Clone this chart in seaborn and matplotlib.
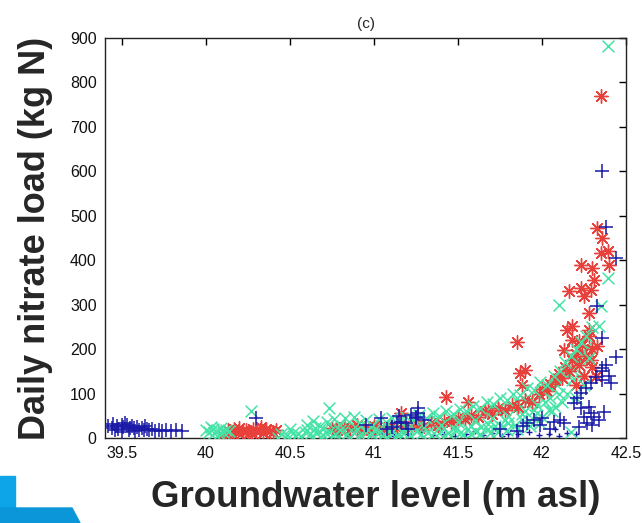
import matplotlib
matplotlib.use("Agg")
import matplotlib.pyplot as plt
import seaborn as sns
import pandas as pd
from matplotlib.patches import Polygon

# ---------------- data ----------------
blue_pts = [
    (39.42, 28), (39.44, 22), (39.45, 31), (39.47, 26), (39.48, 20), (39.50, 29), (39.51, 24),
    (39.53, 30), (39.54, 18), (39.56, 27), (39.57, 22), (39.59, 25), (39.60, 19), (39.62, 23),
    (39.63, 17), (39.65, 21), (39.66, 18), (39.68, 20), (39.70, 16), (39.72, 18), (39.74, 15),
    (39.76, 17), (39.79, 16), (39.82, 17), (39.86, 16), (39.46, 18), (39.52, 33), (39.58, 15),
    (39.64, 26), (39.50, 14), (39.55, 22),
    (40.30, 45),
    (40.95, 30), (41.04, 45), (41.11, 25), (41.14, 33), (41.15, 50), (41.16, 37), (41.19, 33),
    (41.22, 52), (41.25, 45), (41.26, 56), (41.26, 68), (41.25, 48), (41.08, 20), (41.30, 40),
    (41.20, 20),
    (41.89, 27), (41.91, 33), (41.99, 29), (41.95, 40), (42.07, 37), (42.11, 41), (42.13, 33),
    (42.05, 20), (42.00, 45), (41.85, 15), (41.75, 20),
    (42.19, 78), (42.21, 90), (42.23, 101), (42.26, 112), (42.29, 123), (42.32, 138), (42.36, 157),
    (42.41, 123), (42.23, 67), (42.25, 48), (42.27, 33), (42.29, 56), (42.31, 48), (42.37, 59),
    (42.30, 30), (42.34, 40), (42.22, 25), (42.36, 130), (42.38, 165), (42.36, 150), (42.44, 183),
    (42.36, 226), (42.33, 296), (42.44, 406), (42.38, 474), (42.36, 600), (42.40, 140), (42.28, 70),
]

blue_small_pts = [
    (40.78, 8), (40.85, 5), (40.92, 10), (41.00, 6), (41.05, 12), (41.12, 4), (41.20, 8),
    (41.28, 14), (41.35, 6), (41.42, 10), (41.48, 5), (41.55, 8), (41.60, 15), (41.65, 6),
    (41.70, 12), (41.76, 4), (41.80, 10), (41.86, 8), (41.92, 14), (41.98, 6), (42.04, 10),
    (42.10, 5), (42.15, 12), (42.20, 8), (40.88, 20), (41.38, 18), (41.72, 22), (42.08, 20),
]

red_pts = [
    (40.11, 2), (40.13, 18), (40.15, 14), (40.17, 20), (40.19, 12), (40.20, 22), (40.22, 16),
    (40.24, 19), (40.26, 13), (40.28, 21), (40.30, 15), (40.32, 18), (40.34, 12), (40.36, 20),
    (40.38, 16), (40.40, 14), (40.42, 18), (40.16, 8), (40.25, 8), (40.33, 25),
    (40.75, 22), (40.78, 18), (40.82, 25), (40.86, 20), (40.90, 17), (40.94, 22), (40.98, 19),
    (41.02, 24), (41.06, 20), (41.10, 26), (41.14, 22), (41.18, 28), (41.22, 25), (41.26, 30),
    (41.30, 28), (41.34, 34), (41.38, 30), (41.42, 38), (41.46, 35), (41.50, 45), (41.54, 42),
    (41.58, 52), (41.62, 48), (41.66, 60), (41.70, 55), (41.74, 68), (41.78, 62), (41.82, 75),
    (41.86, 70), (41.90, 85), (41.94, 80), (41.98, 98), (42.00, 110), (42.03, 105), (42.05, 122),
    (42.08, 130), (42.10, 145), (42.12, 135), (42.14, 160), (42.16, 150), (42.18, 175),
    (42.20, 190), (42.22, 165), (42.24, 210), (42.26, 185), (42.28, 230), (42.30, 200),
    (42.30, 160), (42.25, 140), (42.20, 120), (42.32, 140),
    (41.16, 56), (41.43, 93), (41.56, 80), (41.68, 63), (41.85, 215), (41.87, 146), (41.90, 153),
    (41.88, 120), (42.13, 199), (42.15, 244), (42.18, 251), (42.18, 221), (42.22, 218),
    (42.28, 244), (42.29, 176), (42.33, 206), (42.28, 281), (42.25, 319), (42.16, 330),
    (42.23, 338), (42.29, 334), (42.31, 356), (42.23, 390), (42.30, 383), (42.40, 390),
    (42.35, 417), (42.39, 420), (42.36, 450), (42.33, 473), (42.35, 769), (40.90, 30), (41.00, 28),
]

green_pts = [
    (40.00, 18), (40.02, 14), (40.04, 20), (40.05, 12), (40.07, 17), (40.09, 22), (40.10, 14),
    (40.12, 19), (40.14, 16), (40.03, 25), (40.08, 10),
    (40.27, 61), (40.43, 0), (40.73, 68), (42.39, 882),
    (40.45, 10), (40.48, 6), (40.52, 12), (40.55, 8), (40.59, 14), (40.62, 9), (40.66, 12),
    (40.70, 7), (40.73, 13), (40.77, 9), (40.81, 14), (40.84, 8), (40.88, 12), (40.92, 6),
    (40.95, 13), (40.99, 9), (41.03, 14), (41.06, 8), (41.10, 12), (41.14, 7), (41.17, 13),
    (41.21, 10), (41.25, 15), (41.28, 9), (41.32, 14), (41.36, 11), (41.40, 16), (41.44, 12),
    (41.48, 18), (41.52, 14), (41.56, 20), (41.60, 16), (41.64, 24), (41.68, 20), (41.72, 28),
    (41.76, 25), (41.80, 34), (41.84, 30), (41.88, 42), (41.92, 38), (41.96, 52), (42.00, 48),
    (42.04, 62), (42.08, 70),
    (40.60, 29), (40.64, 38), (40.68, 26), (40.72, 35), (40.76, 42), (40.80, 30), (40.83, 45),
    (40.88, 48), (40.91, 34), (40.95, 40), (40.99, 30), (41.03, 42), (41.07, 35), (41.11, 45),
    (41.15, 38), (41.19, 48), (41.23, 42), (41.27, 52), (41.31, 46), (41.35, 56), (41.39, 50),
    (41.43, 60), (41.47, 55), (41.51, 66), (41.55, 60), (41.59, 72), (41.63, 68), (41.67, 80),
    (41.71, 76), (41.75, 90), (41.79, 86), (41.83, 100), (41.87, 96), (41.91, 112), (41.95, 108),
    (41.99, 125), (42.03, 120), (42.07, 140), (42.11, 150), (42.14, 170), (42.17, 185),
    (42.20, 200), (42.23, 215), (42.26, 230), (42.30, 250), (42.34, 251), (42.35, 296),
    (42.10, 300), (42.39, 360), (42.17, 14), (42.15, 100), (42.20, 90), (42.25, 120),
    (42.28, 180), (42.12, 80), (42.05, 90), (41.97, 75), (41.90, 60), (41.80, 50), (41.70, 45),
    (41.60, 40), (41.50, 35), (41.40, 30), (41.30, 25), (41.20, 22), (41.10, 20), (41.00, 18),
    (40.90, 20), (40.80, 18), (40.70, 20), (40.60, 18), (40.50, 20),
]

# extra green crosses that make up the dense ribbon
green_band_pts = [
    (40.47, 3), (40.53, 4), (40.57, 2), (40.63, 4), (40.68, 3), (40.74, 2), (40.79, 4),
    (40.86, 3), (40.93, 2), (40.97, 4), (41.04, 3), (41.09, 2), (41.16, 4), (41.22, 3),
    (41.29, 2), (41.34, 4), (41.41, 3), (41.46, 5), (41.53, 6), (41.58, 8), (41.63, 10),
    (41.69, 12), (41.74, 14), (41.79, 18), (41.85, 20), (41.93, 26), (41.99, 34),
    (40.65, 22), (40.75, 27), (40.85, 26), (40.96, 24), (41.05, 28), (41.13, 30), (41.24, 32),
    (41.33, 38), (41.37, 40), (41.45, 45), (41.53, 50), (41.57, 48), (41.65, 56), (41.73, 62),
    (41.77, 68), (41.82, 70), (41.86, 80), (41.93, 88), (41.98, 95), (42.02, 105), (42.06, 112),
    (42.09, 120), (42.13, 132), (42.16, 145), (42.19, 160), (42.22, 175), (42.24, 190),
    (42.27, 205), (42.18, 130), (42.22, 140), (42.10, 100), (42.02, 80), (42.06, 60),
    (41.95, 62), (41.88, 55), (41.78, 40), (41.68, 32), (41.58, 28), (41.48, 25),
]

x_ticks = [39.5, 40, 40.5, 41, 41.5, 42, 42.5]
x_ticklabels = ["39.5", "40", "40.5", "41", "41.5", "42", "42.5"]
y_ticks = [0, 100, 200, 300, 400, 500, 600, 700, 800, 900]
y_ticklabels = [str(v) for v in y_ticks]

title_text = "(c)"
x_label = "Groundwater level (m asl)"
y_label = "Daily nitrate load (kg N)"

# ---------------- plotting ----------------
sns.set_theme(style="white")
plt.rcParams["font.family"] = ["Liberation Sans", "DejaVu Sans"]

def to_df(pts):
    return pd.DataFrame(pts, columns=["level", "load"])

fig = plt.figure(figsize=(6.42, 5.23), dpi=100)
ax = fig.add_axes([105 / 642, 85 / 523, 521 / 642, 400 / 523])

BLUE = "#1a1aa8"
RED = "#e8403a"
GREEN = "#45e3a5"

sns.scatterplot(data=to_df(blue_small_pts), x="level", y="load", marker="+", s=18,
                color=BLUE, linewidth=1.0, ax=ax, zorder=2)
sns.scatterplot(data=to_df(green_band_pts), x="level", y="load", marker="x", s=72,
                color=GREEN, linewidth=1.1, ax=ax, zorder=2.5)
sns.scatterplot(data=to_df(red_pts), x="level", y="load", marker=(8, 2, 0), s=95,
                color=RED, linewidth=1.0, ax=ax, zorder=3)
sns.scatterplot(data=to_df(green_pts), x="level", y="load", marker="x", s=72,
                color=GREEN, linewidth=1.1, ax=ax, zorder=4)
sns.scatterplot(data=to_df(blue_pts), x="level", y="load", marker="+", s=115,
                color=BLUE, linewidth=1.1, ax=ax, zorder=5)

ax.set_xlim(39.4, 42.5)
ax.set_ylim(0, 900)
ax.set_xticks(x_ticks)
ax.set_xticklabels(x_ticklabels)
ax.set_yticks(y_ticks)
ax.set_yticklabels(y_ticklabels)
ax.tick_params(direction="in", length=5, width=1, top=True, right=True,
               labelsize=11.5, colors="black", pad=6)
ax.tick_params(axis="both", which="both", labelcolor="#111111")
for sp in ax.spines.values():
    sp.set_color("#222222")
    sp.set_linewidth(1.0)

ax.set_title(title_text, fontsize=11, pad=7)
ax.set_xlabel(x_label, fontsize=26.5, fontweight="bold")
ax.set_ylabel(y_label, fontsize=26, fontweight="bold", labelpad=12)
ax.xaxis.set_label_coords(0.52, -0.105, transform=ax.transAxes)
ax.xaxis.label.set_verticalalignment("top")

# decorative blue corner shape (bottom-left of the reference)
H = 523.0
def fp(px, py):
    return (px / 642.0, (H - py) / H)
fig.patches.append(Polygon([fp(0, 476), fp(15, 476), fp(15, 523), fp(0, 523)],
                           closed=True, transform=fig.transFigure, color="#0ea4e8", zorder=0))
fig.patches.append(Polygon([fp(0, 508), fp(72, 508), fp(80, 523), fp(0, 523)],
                           closed=True, transform=fig.transFigure, color="#0a96d8", zorder=0))

fig.savefig("out.png", dpi=100, facecolor="white")
